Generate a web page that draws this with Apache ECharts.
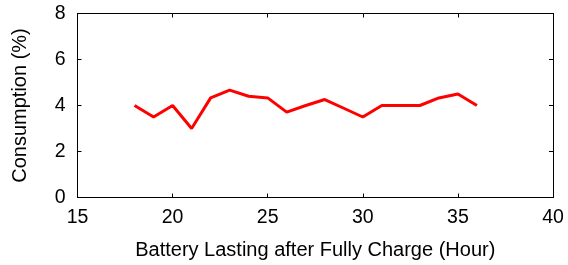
<!DOCTYPE html>
<html><head><meta charset="utf-8">
<script src="https://cdn.jsdelivr.net/npm/echarts@6/dist/echarts.min.js"></script>
<style>html,body{margin:0;padding:0;background:#fff}#c{width:568px;height:265px}</style>
</head><body><div id="c"></div>
<script>
const hours = [18,19,20,21,22,23,24,25,26,27,28,29,30,31,32,33,34,35,36];
const consumption = [4.0,3.5,4.0,3.0,4.33,4.67,4.4,4.33,3.71,4.0,4.26,3.88,3.5,4.0,4.0,4.0,4.33,4.5,4.0];
const xTicks = [15,20,25,30,35,40];
const yTicks = [0,2,4,6,8];
const xTitle = 'Battery Lasting after Fully Charge (Hour)';
const yTitle = 'Consumption (%)';

const font = 'Liberation Sans, Arial, sans-serif';
const chart = echarts.init(document.getElementById('c'), null, {renderer:'canvas'});
const axisCommon = {
  axisLine:{show:true,onZero:false,lineStyle:{color:'#000',width:1}},
  axisTick:{show:true,inside:true,length:4,lineStyle:{color:'#000',width:1}},
  splitLine:{show:false}
};
chart.setOption({
  animation:false,
  grid:{left:77.5,right:15,top:13.5,bottom:65.5},
  xAxis:[
    Object.assign({type:'value',position:'bottom',min:xTicks[0],max:xTicks[xTicks.length-1],interval:5,
      name:xTitle,nameLocation:'middle',nameGap:42.5,
      nameTextStyle:{fontFamily:font,fontSize:20,color:'#000'},
      axisLabel:{margin:10,fontFamily:font,fontSize:19.5,color:'#000'}},axisCommon),
    Object.assign({type:'value',position:'top',min:xTicks[0],max:xTicks[xTicks.length-1],interval:5,
      axisLabel:{show:false}},axisCommon)
  ],
  yAxis:[
    Object.assign({type:'value',position:'left',min:yTicks[0],max:yTicks[yTicks.length-1],interval:2,
      name:yTitle,nameLocation:'middle',nameGap:47,
      nameTextStyle:{fontFamily:font,fontSize:20,color:'#000'},
      axisLabel:{margin:12,fontFamily:font,fontSize:19.5,color:'#000'}},axisCommon),
    Object.assign({type:'value',position:'right',min:yTicks[0],max:yTicks[yTicks.length-1],interval:2,
      axisLabel:{show:false}},axisCommon)
  ],
  series:[{
    type:'line',xAxisIndex:0,yAxisIndex:0,
    data:hours.map((h,i)=>[h,consumption[i]]),
    showSymbol:false,symbol:'none',
    lineStyle:{color:'#ff0000',width:3},
    itemStyle:{color:'#ff0000'}
  }]
});
</script></body></html>
